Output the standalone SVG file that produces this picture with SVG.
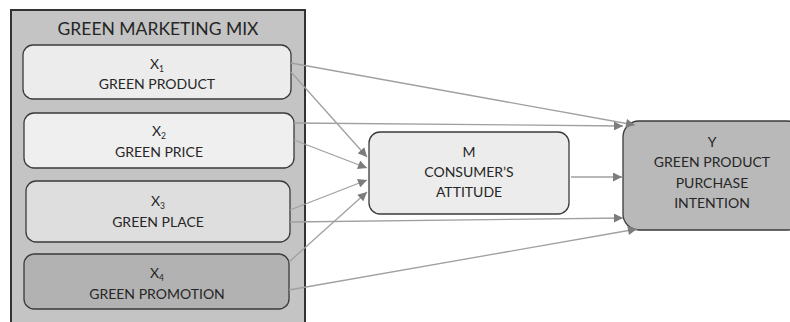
<svg xmlns="http://www.w3.org/2000/svg" width="790" height="322" viewBox="0 0 790 322">
<style>
.t{font-family:Lato,"Open Sans","Liberation Sans",sans-serif;font-size:14px;fill:#262626;text-anchor:middle}
.big{font-size:17.5px}
.sub{font-size:8.5px}
.box{stroke:#3a3a3a;stroke-width:1.3}
.c{stroke:#a0a0a0;stroke-width:1.3;fill:none;marker-end:url(#ah)}
</style>
<defs>
<marker id="ah" viewBox="0 0 10 10" refX="10" refY="5" markerWidth="10" markerHeight="9" markerUnits="userSpaceOnUse" orient="auto">
<path d="M0,0 L10,5 L0,10 z" fill="#7c7c7c"/>
</marker>
</defs>
<rect width="790" height="322" fill="#fff"/>
<g id="mix">
<rect x="11" y="10" width="294" height="330" fill="#c4c4c4" stroke="#333" stroke-width="2"/>
<text class="t big" x="158" y="35">GREEN MARKETING MIX</text>
</g>
<g id="x1">
<rect class="box" x="23" y="45" width="268" height="54" rx="10" fill="#ececec"/>
<text class="t" x="157" y="69">X<tspan class="sub" dy="3">1</tspan></text>
<text class="t" x="157" y="89">GREEN PRODUCT</text>
</g>
<g id="x2">
<rect class="box" x="24" y="113" width="270" height="55" rx="10" fill="#efefef"/>
<text class="t" x="159" y="136">X<tspan class="sub" dy="3">2</tspan></text>
<text class="t" x="159" y="157">GREEN PRICE</text>
</g>
<g id="x3">
<rect class="box" x="26" y="181" width="264" height="61" rx="10" fill="#dedede"/>
<text class="t" x="158" y="206">X<tspan class="sub" dy="3">3</tspan></text>
<text class="t" x="158" y="227">GREEN PLACE</text>
</g>
<g id="x4">
<rect class="box" x="24" y="254" width="265" height="55" rx="10" fill="#b2b2b2"/>
<text class="t" x="157" y="278">X<tspan class="sub" dy="3">4</tspan></text>
<text class="t" x="157" y="299">GREEN PROMOTION</text>
</g>
<g id="m">
<rect class="box" x="369" y="132" width="200" height="82" rx="11" fill="#ececec"/>
<text class="t" x="469" y="157">M</text>
<text class="t" x="469" y="177">CONSUMER’S</text>
<text class="t" x="469" y="197">ATTITUDE</text>
</g>
<g id="y">
<rect class="box" x="623" y="121" width="180" height="109" rx="16" fill="#b9b9b9"/>
<text class="t" x="712" y="147">Y</text>
<text class="t" x="712" y="167">GREEN PRODUCT</text>
<text class="t" x="712" y="188">PURCHASE</text>
<text class="t" x="712" y="208">INTENTION</text>
</g>
<g id="connectors">
<path class="c" d="M291,63 L635,125"/>
<path class="c" d="M291,72 L367,157"/>
<path class="c" d="M294,123 L623,126"/>
<path class="c" d="M294,140 L367,168"/>
<path class="c" d="M290,210 L367,180"/>
<path class="c" d="M290,222 L623,218"/>
<path class="c" d="M289,262 L367,192"/>
<path class="c" d="M289,290 L637,229"/>
<path class="c" d="M571,177 L622,177"/>
</g>
</svg>
